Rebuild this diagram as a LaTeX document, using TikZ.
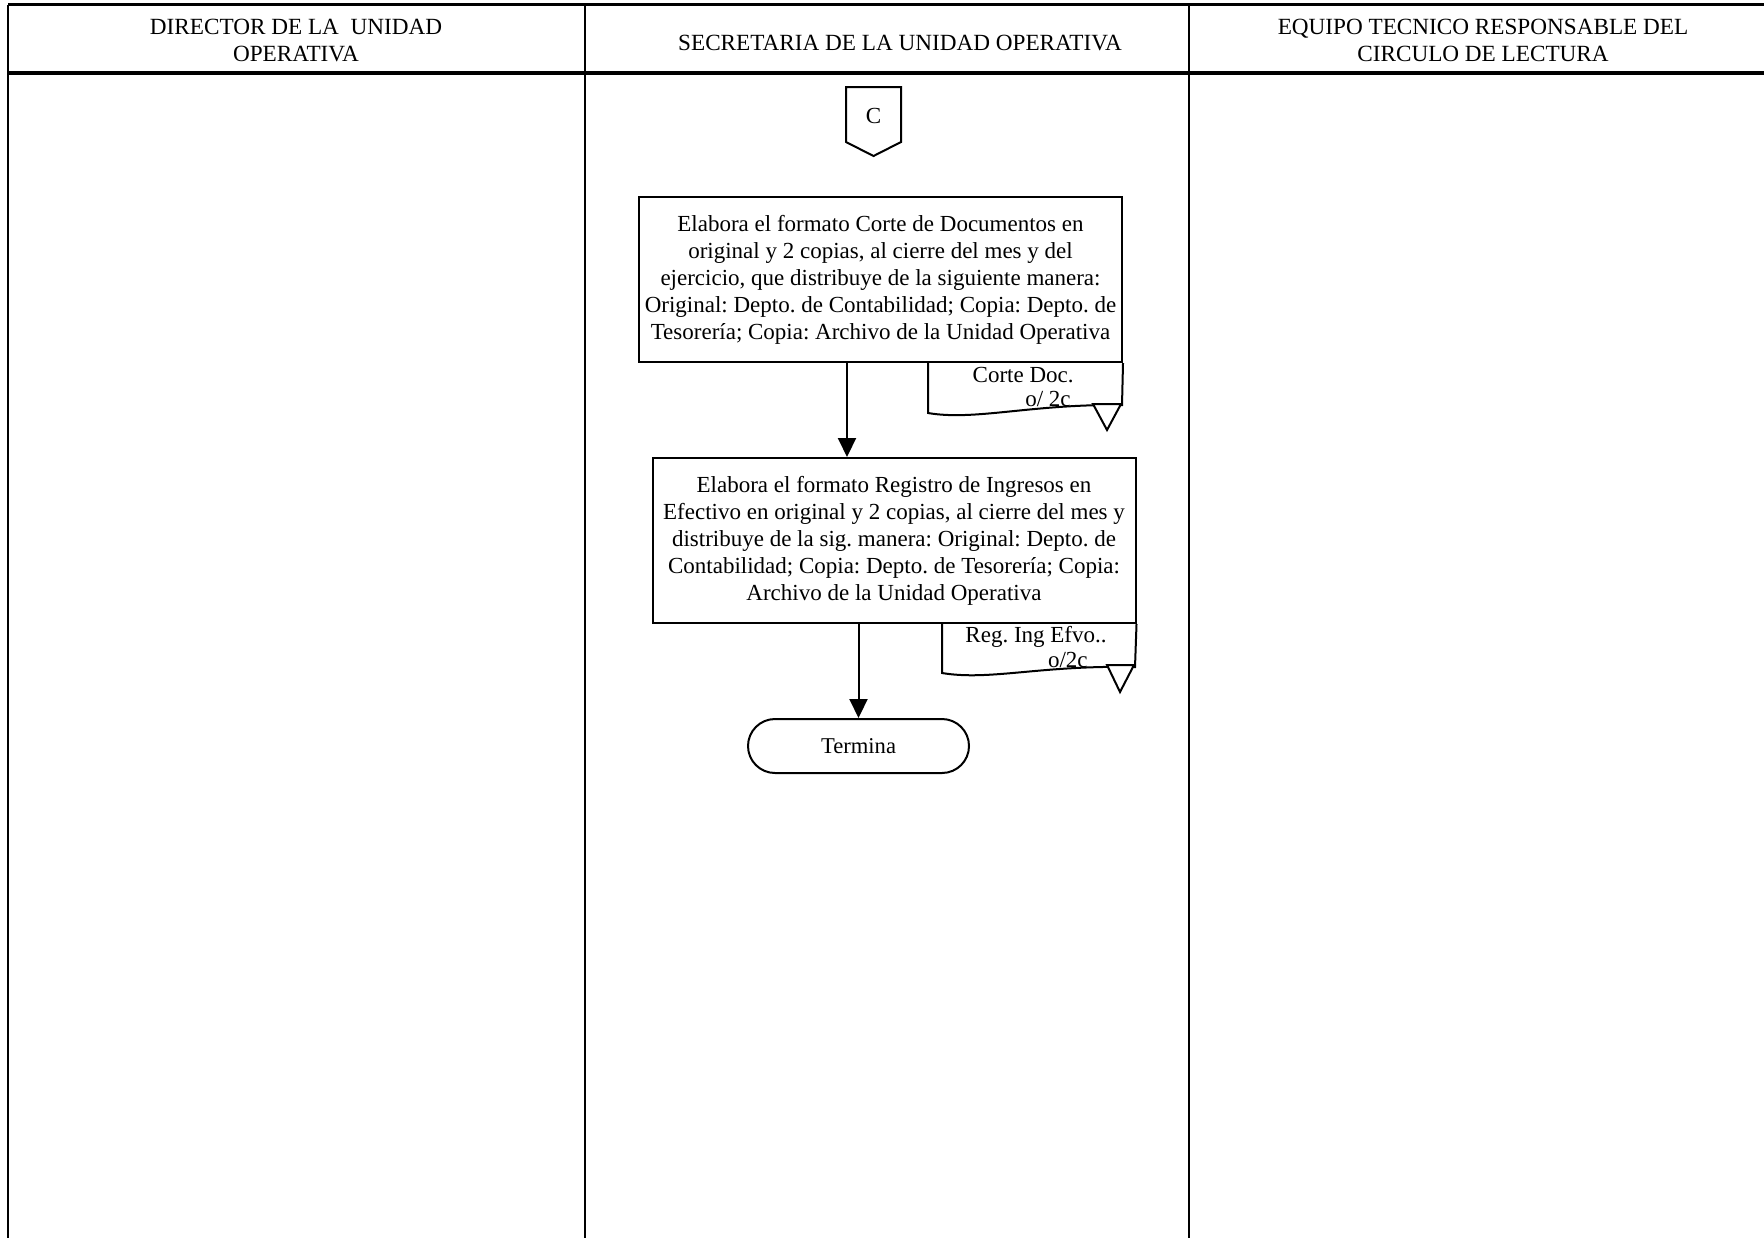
\documentclass[tikz,border=0pt]{standalone}
\usepackage{fontspec}
\setmainfont{Liberation Serif}
\usetikzlibrary{arrows.meta,positioning,calc}

\begin{document}
\begin{tikzpicture}[x=0.5pt,y=-0.5pt,
  lane/.style={draw=black,line width=1pt},
  rule/.style={draw=black,line width=1.7pt},
  head/.style={align=center,inner sep=0pt,font=\fontsize{11.6}{13.5}\selectfont},
  proc/.style={draw=black,line width=1pt,fill=white,minimum width=241.5pt,
               minimum height=82.5pt,align=center,inner sep=2pt,
               font=\fontsize{11.5}{13.5}\selectfont\frenchspacing},
  term/.style={draw=black,line width=1pt,rounded corners=13.5pt,fill=white,
               minimum width=110.5pt,minimum height=27pt,
               font=\fontsize{11.3}{13.5}\selectfont},
  doc/.style={draw=black,line width=1pt,fill=white},
  lbl/.style={inner sep=0pt,anchor=base east,font=\fontsize{11.5}{13.5}\selectfont\frenchspacing},
  arr/.style={-{Triangle[length=9.5pt,width=9pt]},line width=1pt,draw=black}
]
\useasboundingbox (0,0) rectangle (1764,1238);

% swimlanes
\draw[rule] (8,4.5)--(1764,4.5);
\draw[rule] (8,73)--(1764,73);
\draw[lane] (8,4.5)--(8,1238);
\draw[lane] (585,4.5)--(585,1238);
\draw[lane] (1189,4.5)--(1189,1238);

\node[head] (hdir) at (296,40.5) {DIRECTOR DE LA \ UNIDAD\\OPERATIVA};
\node[head] (hsec) at (900,43) {SECRETARIA DE LA UNIDAD OPERATIVA};
\node[head] (hequ) at (1483,40.5) {EQUIPO TECNICO RESPONSABLE DEL\\CIRCULO DE LECTURA};

% connector
\draw[doc] (846,87)--(901,87)--(901,142)--(873.5,156)--(846,142)--cycle;
\node[inner sep=0pt,font=\fontsize{11.5}{13.5}\selectfont] (conC) at (873.5,116) {C};

% steps
\node[proc] (corte) at (880.5,279.5) {Elabora el formato Corte de Documentos en\\original y 2 copias, al cierre del mes y del\\ejercicio, que distribuye de la siguiente manera:\\Original: Depto. de Contabilidad; Copia: Depto. de\\Tesorería; Copia: Archivo de la Unidad Operativa};

\draw[doc] (corte.south -| 928,0)--(928,413) .. controls (975,421) and (1030,404) .. (1122,405)--(corte.south east);
\draw[doc] (1093,404)--(1121,404)--(1107,430)--cycle;
\node[lbl] (cortedoc) at (1074,382) {Corte Doc.};
\node[lbl] (cortecop) at (1071,406) {o/ 2c};

\node[proc] (regist) at (894,540.5) {Elabora el formato Registro de Ingresos en\\Efectivo en original y 2 copias, al cierre del mes y\\distribuye de la sig. manera: Original: Depto. de\\Contabilidad; Copia: Depto. de Tesorería; Copia:\\Archivo de la Unidad Operativa};

\draw[doc] (regist.south -| 942,0)--(942,673) .. controls (990,681) and (1040,665) .. (1135,667)--(regist.south east);
\draw[doc] (1107,665)--(1134,665)--(1120,692)--cycle;
\node[lbl] (registdoc) at (1107,642) {Reg. Ing Efvo..};
\node[lbl] (registcop) at (1088,667) {o/2c};

\node[term] (fin) at (858.5,746) {Termina};

\draw[arr] ([xshift=-16.75pt]corte.south) -- ([xshift=-16.75pt]corte.south |- regist.north);
\draw[arr] (fin.north |- regist.south) -- (fin.north);
\end{tikzpicture}
\end{document}
